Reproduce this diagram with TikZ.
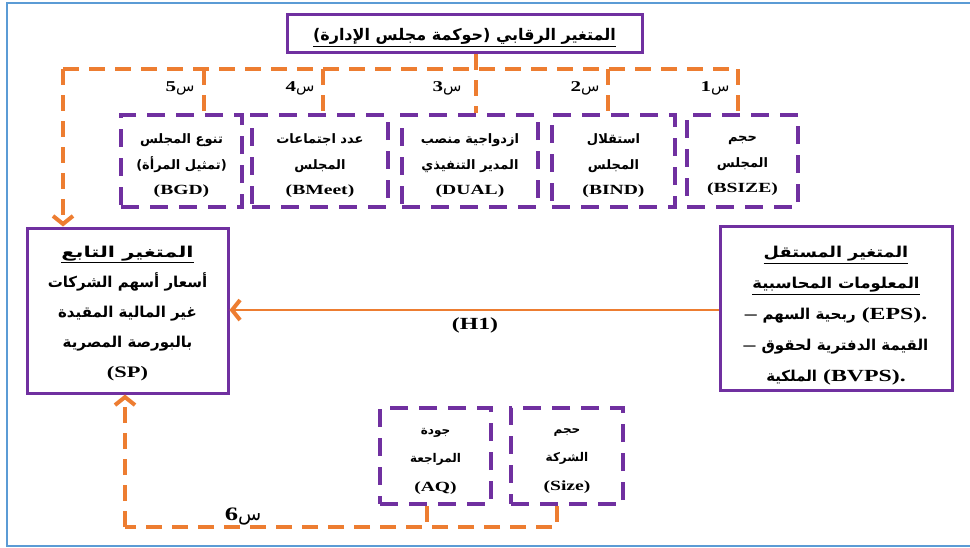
\documentclass[tikz,border=0pt]{standalone}
\usepackage{fontspec}
\setmainfont{Liberation Serif}[FakeStretch=1.4]
\newfontfamily\arabicfont[Script=Arabic]{DejaVu Sans}
\TeXXeTstate=1
\usetikzlibrary{arrows.meta}

\definecolor{boxpurple}{HTML}{7030A0}
\definecolor{linkorange}{HTML}{ED7D31}
\definecolor{pageblue}{HTML}{5B9BD5}

% Arabic text, right to left, at the sizes used in the diagram
\newcommand\arsm[1]{{\arabicfont\fontsize{13}{25.5}\selectfont\bfseries\beginR #1\endR}}
\newcommand\armid[1]{{\arabicfont\fontsize{12}{28.5}\selectfont\bfseries\beginR #1\endR}}
\newcommand\arbig[1]{{\arabicfont\fontsize{15}{30}\selectfont\bfseries\beginR #1\endR}}
\newcommand\arbigr[1]{{\arabicfont\fontsize{15}{31}\selectfont\bfseries\beginR #1\endR}}
% underlined headings, set a little wider (argument holds its own \beginR ... \endR)
\newcommand\arhead[3]{\underline{\arabicfont\addfontfeatures{FakeStretch=#1}\fontsize{15}{#2}\selectfont\bfseries #3}}
\newcommand\artitle[1]{{\arabicfont\fontsize{16}{18}\selectfont\bfseries\beginR #1\endR}}
% link labels: digit followed by the letter seen
\newcommand\sinlabel[2]{{\fontsize{#2}{#2}\selectfont\bfseries #1}{\arabicfont\fontsize{#2}{#2}\selectfont س}}

\begin{document}
\begin{tikzpicture}[x=1pt,y=-1pt,
  solidbox/.style={draw=boxpurple, line width=3pt, inner sep=0pt},
  dashbox/.style={draw=boxpurple, line width=3.8pt, dash pattern=on 18pt off 11pt, inner sep=0pt},
  boxtext/.style={align=center, inner sep=0pt},
  odash/.style={draw=linkorange, line width=3.3pt, dash pattern=on 16pt off 10pt},
  olink/.style={draw=linkorange, line width=2.5pt},
  barbend/.style={-{Straight Barb[length=8pt,width=20pt,line width=4pt]}},
  linklabel/.style={inner sep=0pt}]
\useasboundingbox (0,0) rectangle (970,547);

% page frame
\draw[pageblue, line width=2pt] (972,3) -- (7,3) -- (7,546) -- (972,546);

% moderator title
\node[solidbox, minimum width=355pt, minimum height=38pt] (title) at (464.5,33.5) {};
\node[boxtext] (titlet) at (464.5,37.5)
  {\underline{\artitle{المتغير الرقابي (حوكمة مجلس الإدارة)}}};

% board governance measures
\begin{scope}[every node/.append style={minimum height=92pt}]
\node[dashbox, minimum width=111pt] (b1) at (742.5,161) {};
\node[dashbox, minimum width=123pt] (b2) at (613.5,161) {};
\node[dashbox, minimum width=136pt] (b3) at (470,161) {};
\node[dashbox, minimum width=136pt] (b4) at (320,161) {};
\node[dashbox, minimum width=121pt] (b5) at (181.5,161) {};
\end{scope}
\begin{scope}[every node/.append style={font=\fontsize{14}{25.5}\selectfont\bfseries}]
\node[boxtext] (b1t) at (742.5,166) {\arsm{حجم}\\\arsm{المجلس}\\(BSIZE)};
\node[boxtext] (b2t) at (613.5,166) {\arsm{استقلال}\\\arsm{المجلس}\\(BIND)};
\node[boxtext] (b3t) at (470,166) {\arsm{ازدواجية منصب}\\\arsm{المدير التنفيذي}\\(DUAL)};
\node[boxtext] (b4t) at (320,166) {\arsm{عدد اجتماعات}\\\arsm{المجلس}\\(BMeet)};
\node[boxtext] (b5t) at (181.5,166) {\arsm{تنوع المجلس}\\\arsm{(تمثيل المرأة)}\\(BGD)};
\end{scope}

% dependent variable
\node[solidbox, minimum width=201pt, minimum height=165pt] (dep) at (127.5,310.5) {};
\node[boxtext, font=\fontsize{16}{30}\selectfont\bfseries] (dept) at (127.5,313.5)
  {\arhead{1.4}{30}{\beginR المتغير التابع\endR}\\\arbig{أسعار أسهم الشركات}\\
   \arbig{غير المالية المقيدة}\\\arbig{بالبورصة المصرية}\\(SP)};

% independent variable
\node[solidbox, minimum width=232pt, minimum height=164pt] (ind) at (836,308) {};
\node[boxtext, font=\fontsize{17}{31}\selectfont\bfseries] (indt) at (836,316)
  {\arhead{1.18}{31}{\beginR المتغير المستقل\endR}\\\arhead{1.09}{31}{\beginR المعلومات المحاسبية\endR}\\
   -- \arbigr{ربحية السهم} (EPS).\\-- \arbigr{القيمة الدفترية لحقوق}\\\arbigr{الملكية} (BVPS).};

% control variables
\node[dashbox, minimum width=111pt, minimum height=96pt] (aq) at (435.5,456) {};
\node[dashbox, minimum width=112pt, minimum height=96pt] (sz) at (567,456) {};
\begin{scope}[every node/.append style={font=\fontsize{14}{28.5}\selectfont\bfseries}]
\node[boxtext] (aqt) at (435.5,461) {\armid{جودة}\\\armid{المراجعة}\\(AQ)};
\node[boxtext] (szt) at (567,461) {\armid{حجم}\\\armid{الشركة}\\(Size)};
\end{scope}

% junctions of the moderator bus
\coordinate (busL) at (63,69);
\coordinate (busR) at (738,69);
\coordinate (j1) at (738,69);
\coordinate (j2) at (608,69);
\coordinate (j3) at (476,69);
\coordinate (j4) at (323,69);
\coordinate (j5) at (204,69);

\draw[odash] (busL) -- (busR);
\draw[odash] (title.south -| j3) -- (j3 |- b3.north);
\draw[odash] (j1) -- (j1 |- b1.north);
\draw[odash] (j2) -- (j2 |- b2.north);
\draw[odash] (j4) -- (j4 |- b4.north);
\draw[odash] (j5) -- (j5 |- b5.north);
\draw[odash, barbend] (busL) -- (busL |- dep.north);

% control bus
\coordinate (cAQ) at (427,527);
\coordinate (cSZ) at (557,527);
\coordinate (cL) at (125,527);
\draw[odash] (aq.south -| cAQ) -- (cAQ);
\draw[odash] (sz.south -| cSZ) -- (cSZ) -- (cL);
\draw[odash, barbend] (cL) -- (cL |- dep.south);

% main hypothesis
\draw[olink, barbend] (ind.west |- 0,310) -- (dep.east |- 0,310);
\node[linklabel, font=\fontsize{17}{17}\selectfont\bfseries] (h1) at (475,325) {(H1)};

% link labels
\node[linklabel] (s1) at (715,88) {\sinlabel{1}{15}};
\node[linklabel] (s2) at (585,88) {\sinlabel{2}{15}};
\node[linklabel] (s3) at (447,88) {\sinlabel{3}{15}};
\node[linklabel] (s4) at (300,88) {\sinlabel{4}{15}};
\node[linklabel] (s5) at (180,88) {\sinlabel{5}{15}};
\node[linklabel] (s6) at (243,517) {\sinlabel{6}{19}};
\end{tikzpicture}
\end{document}
